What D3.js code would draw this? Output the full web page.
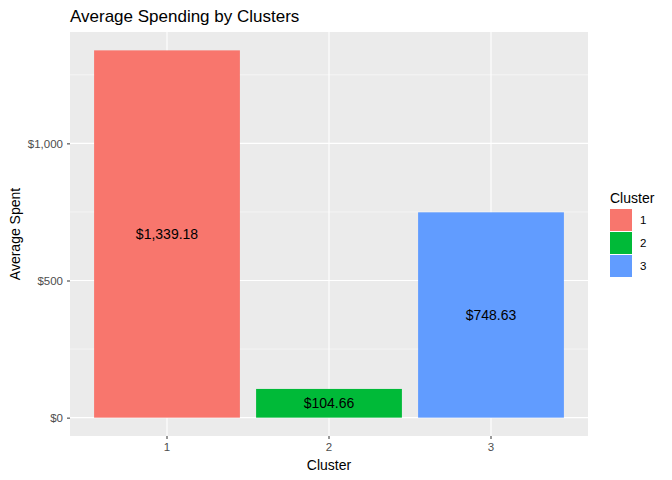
<!DOCTYPE html>
<html><head><meta charset="utf-8">
<script src="https://cdn.jsdelivr.net/npm/d3@7"></script>
<style>body{margin:0;background:#fff;font-family:"Liberation Sans",Arial,sans-serif;}</style>
</head><body><div id="chart"></div>
<script>
var clusters = ["1", "2", "3"];
var spent = [1339.18, 104.66, 748.63];
var colors = ["#F8766D", "#00BA38", "#619CFF"];
var yTicks = [0, 500, 1000];
var yMinor = [250, 750, 1250];

var W = 672, H = 480;
var m = {left: 70, right: 588, top: 32, bottom: 436};

var svg = d3.select("#chart").append("svg").attr("width", W).attr("height", H);

var x = d3.scaleBand().domain(clusters).range([m.left + 0.1 * 162 * 0 + (518 - 162 * 3) / 2, m.right - (518 - 162 * 3) / 2]).paddingInner(0.1).paddingOuter(0.05);
var ext = 1339.18 * 0.05;
var y = d3.scaleLinear().domain([-ext, d3.max(spent) + ext]).range([m.bottom, m.top]);

svg.append("rect").attr("x", m.left).attr("y", m.top).attr("width", m.right - m.left).attr("height", m.bottom - m.top).attr("fill", "#EBEBEB");

svg.selectAll(".minor").data(yMinor).enter().append("line")
  .attr("x1", m.left).attr("x2", m.right).attr("y1", d => y(d)).attr("y2", d => y(d))
  .attr("stroke", "#fff").attr("stroke-width", 0.5);
svg.selectAll(".major").data(yTicks).enter().append("line")
  .attr("x1", m.left).attr("x2", m.right).attr("y1", d => y(d)).attr("y2", d => y(d))
  .attr("stroke", "#fff").attr("stroke-width", 1.1);
svg.selectAll(".vgrid").data(clusters).enter().append("line")
  .attr("y1", m.top).attr("y2", m.bottom).attr("x1", d => x(d) + x.bandwidth() / 2).attr("x2", d => x(d) + x.bandwidth() / 2)
  .attr("stroke", "#fff").attr("stroke-width", 1.1);

svg.selectAll(".bar").data(spent).enter().append("rect")
  .attr("x", (d, i) => x(clusters[i])).attr("width", x.bandwidth())
  .attr("y", d => y(d)).attr("height", d => y(0) - y(d))
  .attr("fill", (d, i) => colors[i]);

var fmt = d3.format("$,.2f");
svg.selectAll(".lbl").data(spent).enter().append("text")
  .attr("x", (d, i) => x(clusters[i]) + x.bandwidth() / 2).attr("y", d => (y(d) + y(0)) / 2 + 5)
  .attr("text-anchor", "middle").attr("font-size", 14).attr("fill", "#000").text(d => fmt(d));

// axes
var yAxis = d3.axisLeft(y).tickValues(yTicks).tickFormat(d3.format("$,")).tickSize(3).tickPadding(4);
var gy = svg.append("g").attr("transform", "translate(" + m.left + ",0)").call(yAxis);
var xAxis = d3.axisBottom(x).tickSize(3).tickPadding(4);
var gx = svg.append("g").attr("transform", "translate(0," + m.bottom + ")").call(xAxis);
[gy, gx].forEach(g => {
  g.select(".domain").remove();
  g.selectAll("line").attr("stroke", "#333");
  g.selectAll("text").attr("fill", "#4D4D4D").attr("font-size", 11.5).attr("font-family", "Liberation Sans, Arial, sans-serif");
});

svg.append("text").attr("x", m.left).attr("y", 22).attr("font-size", 17).attr("fill", "#000").text("Average Spending by Clusters");
svg.append("text").attr("x", (m.left + m.right) / 2).attr("y", 470).attr("text-anchor", "middle").attr("font-size", 14).text("Cluster");
svg.append("text").attr("transform", "translate(20," + (m.top + m.bottom) / 2 + ") rotate(-90)").attr("text-anchor", "middle").attr("font-size", 14).text("Average Spent");

// legend
var lg = svg.append("g").attr("transform", "translate(610,0)");
lg.append("text").attr("x", 0).attr("y", 203).attr("font-size", 14).text("Cluster");
clusters.forEach(function(c, i) {
  lg.append("rect").attr("x", 0).attr("y", 209 + i * 23).attr("width", 22).attr("height", 22).attr("fill", colors[i]);
  lg.append("text").attr("x", 30).attr("y", 224 + i * 23).attr("font-size", 11.5).attr("fill", "#000").text(c);
});
</script></body></html>
